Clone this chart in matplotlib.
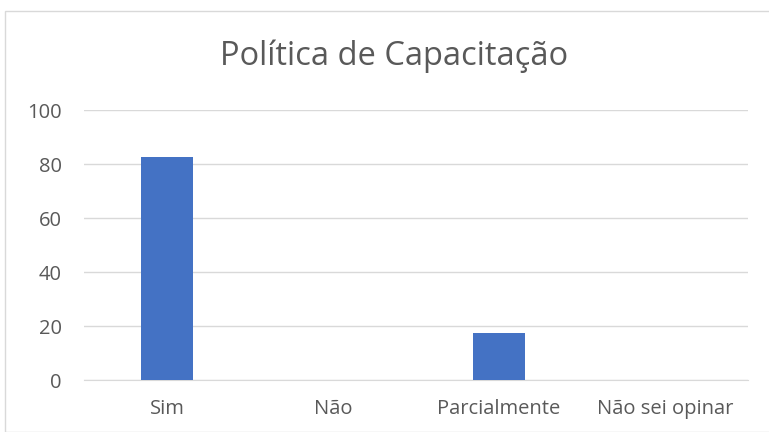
import matplotlib.pyplot as plt
from matplotlib.patches import Rectangle

categorias = ['Sim', 'Não', 'Parcialmente', 'Não sei opinar']
valores = [82.6, 0, 17.4, 0]
y_ticks = [0, 20, 40, 60, 80, 100]

plt.rcParams['font.family'] = ['Open Sans', 'DejaVu Sans']

fig = plt.figure(figsize=(7.69, 4.32), dpi=100)
W, H = 769, 432

# moldura do gráfico (estilo Excel)
fig.patches.append(Rectangle((5 / W, 0), 1, 1 - 11 / H, transform=fig.transFigure,
                             fill=False, edgecolor='#d9d9d9', linewidth=1))

ax = fig.add_axes([84 / W, (H - 380) / H, 664 / W, 270 / H])
x = range(len(categorias))
ax.bar(x, valores, width=0.31, color='#4472c4', zorder=3)

ax.set_xlim(-0.5, len(categorias) - 0.5)
ax.set_ylim(0, 100)
ax.set_yticks(y_ticks)
ax.set_xticks(list(x))
ax.set_xticklabels(categorias)
ax.grid(axis='y', color='#d9d9d9', linewidth=1, zorder=0)
for s in ['top', 'right', 'left']:
    ax.spines[s].set_visible(False)
ax.spines['bottom'].set_color('#d9d9d9')
ax.tick_params(length=0, labelsize=14.5, colors='#595959')
ax.tick_params(axis='x', pad=14)
ax.tick_params(axis='y', pad=16)

fig.text(394 / W, 1 - 56 / H, 'Política de Capacitação', ha='center', va='center',
         fontsize=23.5, color='#595959')

fig.savefig('out.png', dpi=100)
